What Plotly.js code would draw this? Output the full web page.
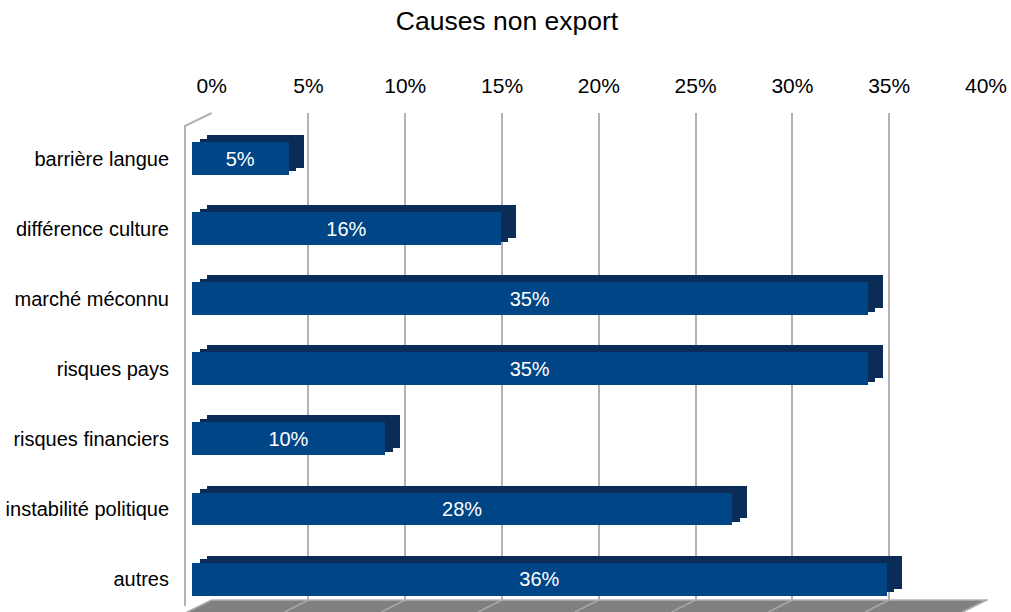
<!DOCTYPE html>
<html>
<head>
<meta charset="utf-8">
<script src="https://cdn.plot.ly/plotly-3.0.1.min.js"></script>
<style>html,body{margin:0;padding:0;background:#fff;}#chart{width:1011px;height:612px;}</style>
</head>
<body>
<div id="chart"></div>
<script>
const categories = ['barrière langue','différence culture','marché méconnu','risques pays','risques financiers','instabilité politique','autres'];
const values = [5, 16, 35, 35, 10, 28, 36];
const tickVals = [0, 5, 10, 15, 20, 25, 30, 35, 40];
const tickLabels = ['0%','5%','10%','15%','20%','25%','30%','35%','40%'];
const chartTitle = 'Causes non export';

const W = 1011, H = 612;
const px = p => p / W;
const py = p => 1 - p / H;
const FONT = 'Liberation Sans, Arial, sans-serif';

const traces = [
  // wall subplot (gridlines + top ticks)
  {type:'scatter', x:[], y:[], xaxis:'x', yaxis:'y', showlegend:false, hoverinfo:'skip'},
  // back / depth faces
  {type:'bar', orientation:'h', x:values, y:categories, xaxis:'x2', yaxis:'y2',
   width:0.47, marker:{color:'#0a2c57', line:{width:0}}, showlegend:false, hoverinfo:'skip'},
  {type:'bar', orientation:'h', x:values, y:categories, xaxis:'x3', yaxis:'y3',
   width:0.47, marker:{color:'#0a2c57', line:{width:0}}, showlegend:false, hoverinfo:'skip'},
  // front faces
  {type:'bar', orientation:'h', x:values, y:categories, xaxis:'x4', yaxis:'y4',
   width:0.47, marker:{color:'#004586', line:{width:0}},
   texttemplate:'%{x}%', textposition:'inside', insidetextanchor:'middle',
   textfont:{color:'#ffffff', size:20, family:FONT}, constraintext:'none',
   showlegend:false, hoverinfo:'skip'}
];

const shapes = [];
// floor
shapes.push({type:'path', xref:'paper', yref:'paper', layer:'below',
  path:`M ${px(211.7)},${py(600)} L ${px(988)},${py(600)} L ${px(964)},${py(612)} L ${px(186)},${py(612)} Z`,
  fillcolor:'#808080', line:{width:0}});
// floor grid continuation
tickVals.forEach(v => {
  const x0 = 211.7 + (986 - 211.7) * v / 40;
  shapes.push({type:'line', xref:'paper', yref:'paper', layer:'below',
    x0:px(x0), y0:py(600), x1:px(x0 - 24), y1:py(612), line:{color:'#a8a8a8', width:1.5}});
});
shapes.push({type:'line', xref:'paper', yref:'paper', layer:'below',
  x0:px(211.7), y0:py(600), x1:px(988), y1:py(600), line:{color:'#b3b3b3', width:1.5}});
// left wall outline
shapes.push({type:'path', xref:'paper', yref:'paper', layer:'below',
  path:`M ${px(185)},${py(606)} L ${px(185)},${py(126)} L ${px(211.7)},${py(113)}`,
  line:{color:'#b3b3b3', width:2}});

const layout = {
  width: W, height: H,
  margin:{l:0, r:0, t:0, b:0},
  paper_bgcolor:'#ffffff', plot_bgcolor:'rgba(0,0,0,0)',
  font:{family:FONT, color:'#000000'},
  title:{text:chartTitle, x:px(507), xanchor:'center', xref:'paper', y:py(21), yanchor:'middle', yref:'paper',
         font:{size:26.5, family:FONT, color:'#000'}},
  hovermode:false,
  bargap:0,
  xaxis:{domain:[px(211.7), px(986)], range:[0,40], anchor:'y', side:'top',
         tickmode:'array', tickvals:tickVals, ticktext:tickLabels,
         tickfont:{size:21, family:FONT, color:'#000'},
         ticks:'outside', ticklen:11, tickcolor:'rgba(0,0,0,0)',
         showgrid:true, gridcolor:'#b3b3b3', gridwidth:2,
         zeroline:false, showline:false, fixedrange:true},
  yaxis:{domain:[py(600), py(113)], range:[0,1], anchor:'x', visible:false, fixedrange:true},
  xaxis2:{domain:[px(207), px(979)], range:[0,40], anchor:'y2', visible:false, fixedrange:true},
  yaxis2:{domain:[py(605), py(116.45)], range:[6.469,-0.5], type:'category', anchor:'x2', visible:false, fixedrange:true},
  xaxis3:{domain:[px(199.5), px(971.5)], range:[0,40], anchor:'y3', visible:false, fixedrange:true},
  yaxis3:{domain:[py(608.5), py(119.95)], range:[6.469,-0.5], type:'category', anchor:'x3', visible:false, fixedrange:true},
  xaxis4:{domain:[px(192), px(964)], range:[0,40], anchor:'y4', visible:false, fixedrange:true},
  yaxis4:{domain:[0, py(123.45)], range:[6.469,-0.5], type:'category', anchor:'x4',
          tickfont:{size:20, family:FONT, color:'#000'},
          ticks:'outside', ticklen:18, tickcolor:'rgba(0,0,0,0)',
          showgrid:false, zeroline:false, showline:false, fixedrange:true},
  shapes: shapes
};

Plotly.newPlot('chart', traces, layout, {displayModeBar:false, staticPlot:true});
</script>
</body>
</html>
